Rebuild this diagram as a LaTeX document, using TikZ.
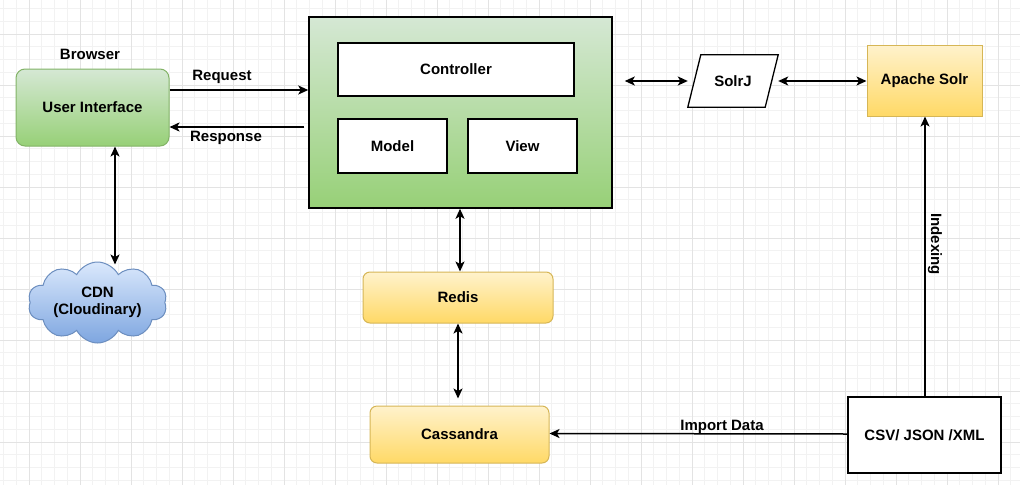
\documentclass[tikz,border=0pt]{standalone}
\usepackage{fontspec}
\setmainfont{Liberation Sans}
\usetikzlibrary{shapes.symbols,arrows.meta}
\definecolor{gminor}{HTML}{F2F2F2}
\definecolor{gmajor}{HTML}{E3E3E3}
\definecolor{gstroke}{HTML}{82B366}
\definecolor{gtop}{HTML}{D5E8D4}
\definecolor{gbot}{HTML}{97D077}
\definecolor{ystroke}{HTML}{D6B656}
\definecolor{ytop}{HTML}{FFF2CC}
\definecolor{ybot}{HTML}{FFD966}
\definecolor{bstroke}{HTML}{6C8EBF}
\definecolor{btop}{HTML}{DAE8FC}
\definecolor{bbot}{HTML}{7EA6E0}
\begin{document}
\begin{tikzpicture}[x=1pt,y=-1pt,
  txt/.style={font=\fontsize{15}{17.5}\selectfont\bfseries, inner sep=0pt},
  greenbox/.style={txt, draw=gstroke, line width=1pt, top color=gtop, bottom color=gbot, rounded corners=9pt},
  yellowbox/.style={txt, draw=ystroke, line width=1pt, top color=ytop, bottom color=ybot},
  whitebox/.style={txt, draw=black, line width=1.3pt, fill=white},
  arr/.style={-{Stealth[length=10pt,width=9pt,inset=2.5pt]}, line width=1.5pt},
  darr/.style={{Stealth[length=10pt,width=9pt,inset=2.5pt]}-{Stealth[length=10pt,width=9pt,inset=2.5pt]}, line width=1.5pt}]
% background and grid
\fill[white] (0,0) rectangle (1020,485);
\useasboundingbox (0,0) rectangle (1020,485);
\foreach \i in {0,...,81}{
  \pgfmathtruncatemacro\m{mod(\i,4)}
  \ifnum\m=0\relax\else
    \draw[gminor, line width=0.9pt] ({-22+\i*12.75},0) -- ({-22+\i*12.75},485);
  \fi}
\foreach \j in {0,...,40}{
  \pgfmathtruncatemacro\m{mod(\j,4)}
  \ifnum\m=0\relax\else
    \draw[gminor, line width=0.9pt] (0,{-17+\j*12.75}) -- (1020,{-17+\j*12.75});
  \fi}
\foreach \i in {0,4,...,80}{
  \draw[gmajor, line width=1pt] ({-22+\i*12.75},0) -- ({-22+\i*12.75},485);}
\foreach \j in {0,4,...,40}{
  \draw[gmajor, line width=1pt] (0,{-17+\j*12.75}) -- (1020,{-17+\j*12.75});}

% nodes
\node[greenbox, minimum width=153pt, minimum height=77pt] (ui) at (92.5,107.5) {User Interface};
\node[txt] (browser) at (90,54) {Browser};
\node[draw=black, line width=1.5pt, top color=gtop, bottom color=gbot, minimum width=303pt, minimum height=191pt] (mvc) at (460.5,112.5) {};
\node[whitebox, minimum width=236pt, minimum height=53pt] (ctrl) at (456,69.5) {Controller};
\node[whitebox, minimum width=109pt, minimum height=54pt] (model) at (392.5,146) {Model};
\node[whitebox, minimum width=109pt, minimum height=54pt] (view) at (522.5,146) {View};
\node[txt, minimum width=90pt, minimum height=52pt] (solrj) at (733,81) {};
\draw[line width=1.3pt, fill=white] ([xshift=13pt]solrj.north west) -- (solrj.north east) -- ([xshift=-13pt]solrj.south east) -- (solrj.south west) -- cycle;
\node[txt] (solrjtext) at (solrj.center) {SolrJ};
\node[yellowbox, minimum width=115pt, minimum height=71pt] (solr) at (924.5,80.5) {Apache Solr};
\node[whitebox, font=\fontsize{15}{17.5}\selectfont, minimum width=153pt, minimum height=76pt] (csv) at (924.5,435) {\textbf{CSV/ JSON /XML}};
\node[yellowbox, rounded corners=7pt, minimum width=190pt, minimum height=51pt] (redis) at (458,297.5) {Redis};
\node[yellowbox, rounded corners=7pt, minimum width=179pt, minimum height=57pt] (cass) at (459.5,434.5) {Cassandra};
\node[cloud, cloud puffs=10, cloud puff arc=125, cloud ignores aspect, draw=bstroke, line width=1pt, top color=btop, bottom color=bbot, minimum width=139pt, minimum height=81pt, txt, align=center] (cdn) at (97.5,302.5) {CDN\\(Cloudinary)};

% labels
\node[txt] (req) at (222,77) {Request};
\node[txt] (resp) at (226,138) {Response};
\node[txt, rotate=-90] (idx) at (935,244) {Indexing};
\node[txt] (imp) at (722,427) {Import Data};

% connectors
\draw[arr] ([yshift=17.5pt]ui.east) -- ([yshift=22.5pt]mvc.west);
\draw[arr] ([yshift=-14.5pt,xshift=-4pt]mvc.west) -- ([yshift=-19.5pt]ui.east);
\draw[darr] ([xshift=22.5pt]ui.south) -- ([xshift=22.5pt,yshift=-118pt]ui.south);
\draw[darr, shorten <=12pt] (mvc.east |- solrj.west) -- (solrj.west);
\draw[darr] (solrj.east) -- (solr.west |- solrj.east);
\draw[darr] ([xshift=-0.5pt]mvc.south) -- ([xshift=-0.5pt]mvc.south |- redis.north);
\draw[darr, shorten >=7pt] (redis.south) -- (redis.south |- cass.north);
\draw[arr] ([xshift=0.5pt]csv.north) -- ([xshift=0.5pt]solr.south);
\draw[arr] ([yshift=1pt]csv.west) -- ([yshift=1pt]cass.east);
\end{tikzpicture}
\end{document}
